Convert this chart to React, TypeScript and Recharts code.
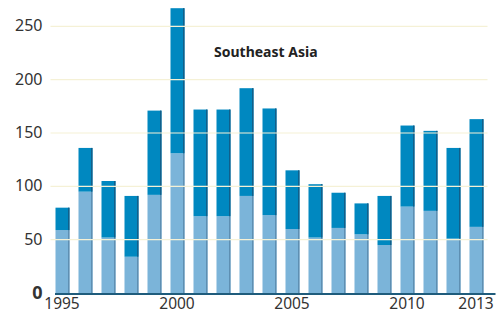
import React from 'react';
import { BarChart, Bar, XAxis, YAxis, ReferenceLine } from 'recharts';

const years = ['1995','1996','1997','1998','1999','2000','2001','2002','2003','2004','2005','2006','2007','2008','2009','2010','2011','2012','2013'];
const lower = [59, 95, 52, 34, 92, 131, 72, 72, 91, 73, 60, 52, 61, 55, 45, 81, 77, 51, 62];
const upper = [21, 41, 53, 57, 79, 136, 100, 100, 101, 100, 55, 50, 33, 29, 46, 76, 75, 85, 101];
const xTickLabels = ['1995', '2000', '2005', '2010', '2013'];
const yTicks = [0, 50, 100, 150, 200, 250];
const title = 'Southeast Asia';

const data = years.map((y, i) => ({ year: y, lower: lower[i], upper: upper[i] }));

const FONT = '"Noto Sans", "Open Sans", sans-serif';

const makeShape = (fill: string, shade: string) => (props: any) => {
  const { x, y, width, height } = props;
  if (!height || height <= 0) return <g />;
  return (
    <g>
      <rect x={x} y={y} width={width} height={height} fill={fill} />
      <rect x={x + width - 1.5} y={y} width={1.5} height={height} fill={shade} />
    </g>
  );
};

const XTick = (props: any) => {
  const { x, payload } = props;
  if (!xTickLabels.includes(String(payload.value))) return <g />;
  return (
    <text x={x} y={308.5} textAnchor="middle" fontFamily={FONT} fontSize={15.5} fill="#333">
      {payload.value}
    </text>
  );
};

const YTick = (props: any) => {
  const { x, y, payload } = props;
  const isZero = payload.value === 0;
  return (
    <text
      x={x}
      y={y + (isZero ? 6 : 5)}
      textAnchor="end"
      fontFamily={FONT}
      fontSize={isZero ? 18 : 16}
      fontWeight={isZero ? 700 : 400}
      fill="#333"
    >
      {payload.value}
    </text>
  );
};

const AxisShape = (props: any) => {
  const { x1, x2, y1 } = props;
  return <line x1={x1 + 4.5} x2={x2 + 8} y1={y1 + 1} y2={y1 + 1} stroke="#1f5c7c" strokeWidth={2} />;
};

export default function App() {
  return (
    <div style={{ position: 'absolute', left: 0, top: 0, width: 496, height: 313, background: '#fff' }}>
      <BarChart width={496} height={313} data={data} margin={{ top: 5, right: 8.5, bottom: 0, left: 0 }}>
        <XAxis
          dataKey="year"
          axisLine={false}
          tickLine={false}
          interval={0}
          height={20}
          tick={<XTick />}
        />
        <YAxis
          type="number"
          domain={[0, 270]}
          ticks={yTicks}
          width={50.5}
          axisLine={false}
          tickLine={false}
          tick={<YTick />}
        />
        <Bar dataKey="lower" stackId="a" barSize={14} isAnimationActive={false} shape={makeShape('#7bb4d9', '#5e8fb2')} />
        <Bar dataKey="upper" stackId="a" barSize={14} isAnimationActive={false} shape={makeShape('#0088c0', '#115f8a')} />
        {[50, 100, 150, 200, 250].map((v) => (
          <ReferenceLine key={v} y={v} stroke="#f5f1d6" strokeWidth={1.2} />
        ))}
        <ReferenceLine y={0} shape={<AxisShape />} ifOverflow="visible" />
        <text x={214} y={57} fontFamily={FONT} fontSize={14} fontWeight={700} fill="#222">
          {title}
        </text>
      </BarChart>
    </div>
  );
}
